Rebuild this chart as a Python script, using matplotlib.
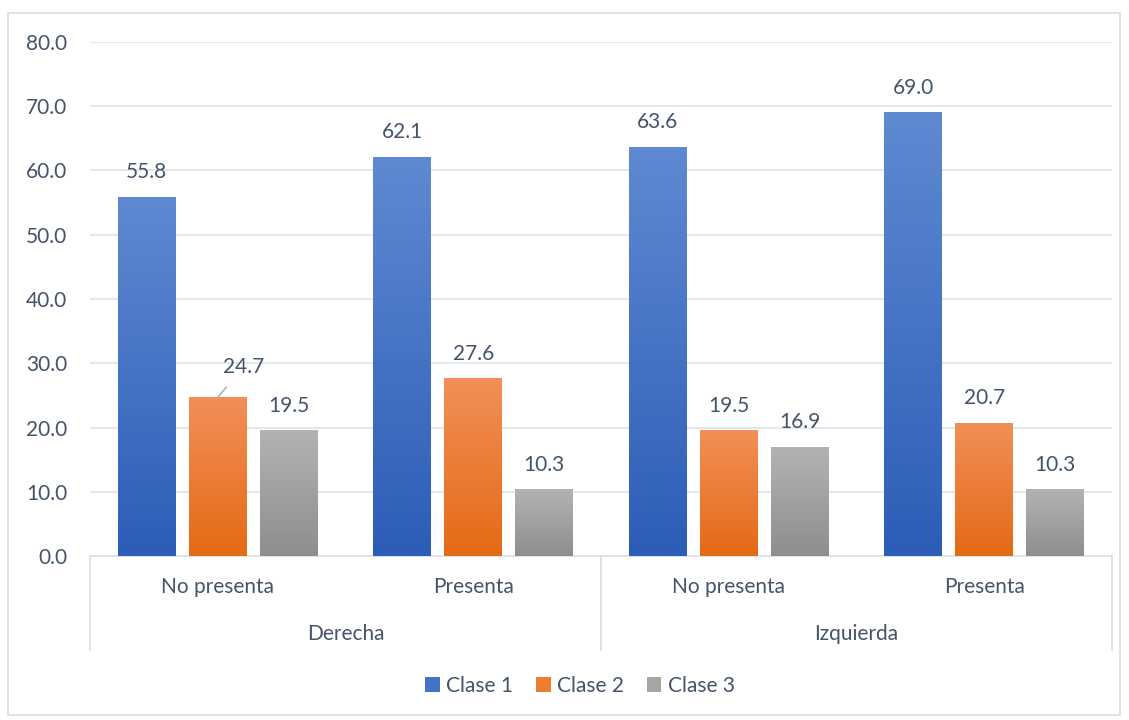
import matplotlib
matplotlib.use("Agg")
import matplotlib.pyplot as plt
import numpy as np
from matplotlib.colors import LinearSegmentedColormap
from matplotlib.patches import Rectangle, Patch
import matplotlib.transforms as mtransforms

plt.rcParams['font.family'] = ['Lato', 'DejaVu Sans']

subcats = ["No presenta", "Presenta", "No presenta", "Presenta"]
groups = ["Derecha", "Izquierda"]
series = ["Clase 1", "Clase 2", "Clase 3"]
clase1 = [55.8, 62.1, 63.6, 69.0]
clase2 = [24.7, 27.6, 19.5, 20.7]
clase3 = [19.5, 10.3, 16.9, 10.3]
yticks = [0, 10, 20, 30, 40, 50, 60, 70, 80]

grads = [("#5F89D1", "#2C5DB7"), ("#F28F58", "#E46A15"), ("#B3B3B3", "#8E8E8E")]
mids = ["#4472C4", "#ED7D31", "#A5A5A5"]
txt = "#44546A"
gridc = "#DFE3E8"
fs = 15

fig = plt.figure(figsize=(11.29, 7.2), dpi=100)
fig.patches.append(Rectangle((8/1129, 5/720), 1112/1129, 702/720, transform=fig.transFigure,
                             fill=False, edgecolor="#D9DDE2", linewidth=1.2))
ax = fig.add_axes([90/1129, 164/720, 1022/1129, 514/720])

x = np.arange(len(subcats))
bw = 0.227
step = 0.278
data = [clase1, clase2, clase3]
for i, vals in enumerate(data):
    bars = ax.bar(x + (i - 1) * step, vals, width=bw, color=mids[i], zorder=2)
    cmap = LinearSegmentedColormap.from_list("g%d" % i, [grads[i][1], grads[i][0]])
    grad = np.linspace(0, 1, 256).reshape(-1, 1)
    for j, (b, v) in enumerate(zip(bars, vals)):
        x0 = b.get_x(); w = b.get_width(); h = b.get_height()
        ax.imshow(grad, extent=(x0, x0 + w, 0, h), origin="lower", cmap=cmap,
                  aspect="auto", zorder=3, interpolation="bicubic")
        cx = x0 + w / 2
        if i == 1 and j == 0:
            ax.annotate(f"{v:.1f}", xy=(cx, h), xytext=(cx + 0.1, h + 4.7),
                        ha="center", va="center", fontsize=fs, color=txt,
                        arrowprops=dict(arrowstyle="-", color="#A6B4C6", lw=1.2,
                                        shrinkA=7, shrinkB=0), zorder=4)
        else:
            ax.text(cx, h + 3.9, f"{v:.1f}", ha="center", va="center",
                    fontsize=fs, color=txt, zorder=4)

ax.set_xlim(-0.5, 3.5)
ax.set_ylim(0, 80)
ax.set_yticks(yticks)
ax.set_yticklabels([f"{t:.1f}" for t in yticks], fontsize=fs, color=txt)
ax.tick_params(axis="y", length=0, pad=16.5)
ax.set_xticks([])
for t in yticks[1:]:
    ax.axhline(t, color=gridc, lw=1.2, zorder=1)
for s in ["top", "right", "left"]:
    ax.spines[s].set_visible(False)
ax.spines["bottom"].set_color("#D9DDE2")
ax.spines["bottom"].set_linewidth(1.2)

trans = mtransforms.blended_transform_factory(ax.transData, ax.transAxes)
for xi, lab in zip(x, subcats):
    ax.text(xi, -0.06, lab, transform=trans, ha="center", va="center", fontsize=fs, color=txt)
for gi, g in enumerate(groups):
    ax.text(gi * 2 + 0.5, -0.152, g, transform=trans, ha="center", va="center", fontsize=fs, color=txt)
for xb in [-0.5, 1.5, 3.5]:
    ax.plot([xb, xb], [0, -0.183], transform=trans, color="#D9DDE2", lw=1.2, clip_on=False)

handles = [Patch(facecolor=mids[i], label=series[i]) for i in range(3)]
fig.legend(handles=handles, loc="center", bbox_to_anchor=(580/1129, 1 - 686/720), ncol=3,
           frameon=False, fontsize=fs, labelcolor=txt, handlelength=0.7, handleheight=0.7,
           handletextpad=0.3, columnspacing=1.1)

fig.savefig("out.png", dpi=100)
